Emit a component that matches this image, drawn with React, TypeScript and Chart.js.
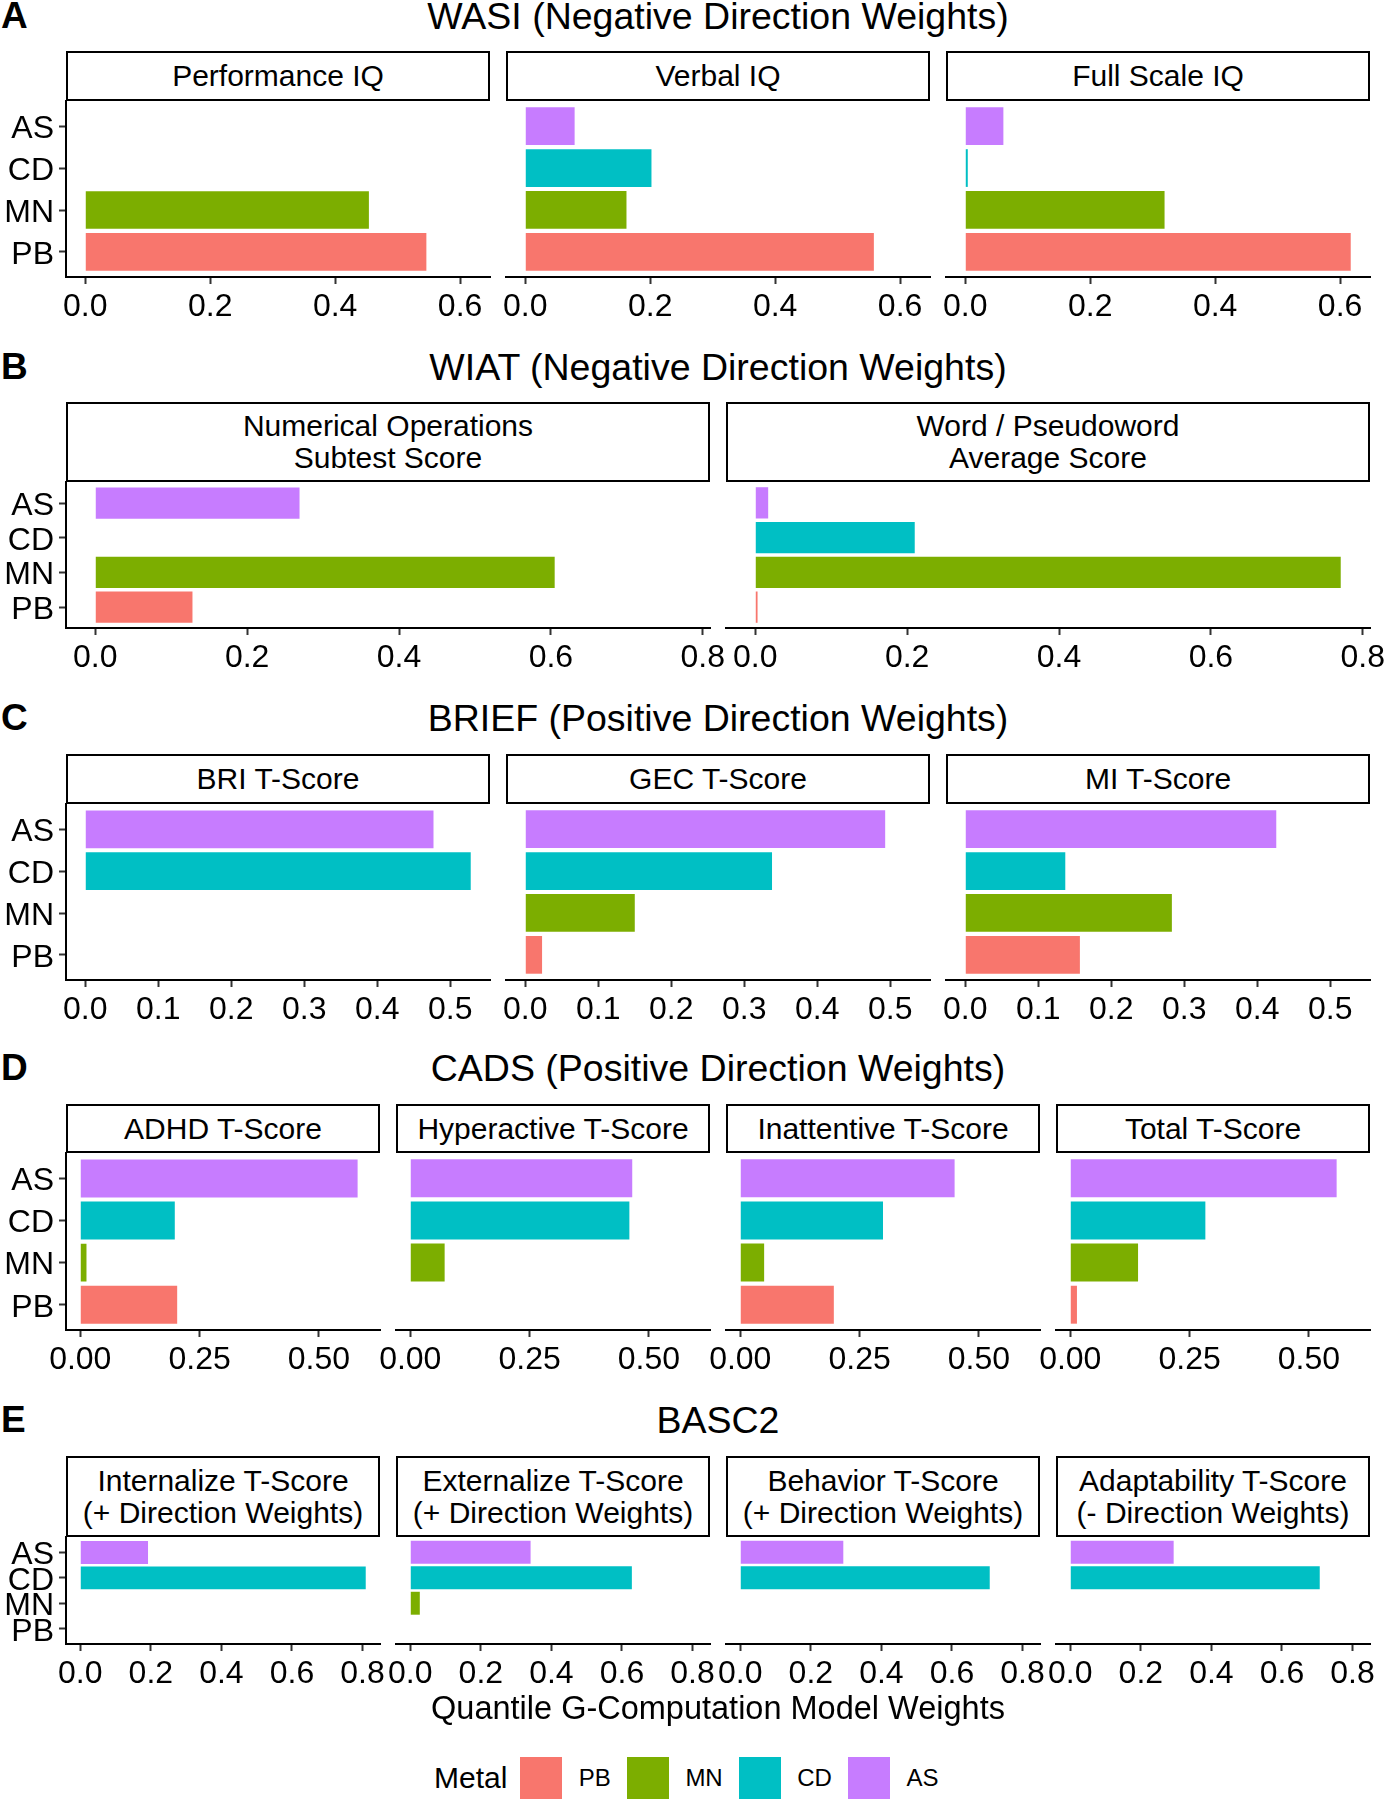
import React, { useEffect, useRef } from 'react';
import { Chart, registerables } from 'chart.js';

Chart.register(...registerables);

const FONT = "'Liberation Sans', Arial, Helvetica, sans-serif";

// ---------- data ----------
const metals = ['AS', 'CD', 'MN', 'PB'];
const legendMetals = ['PB', 'MN', 'CD', 'AS'];
const legendTitle = 'Metal';
const xAxisTitle = 'Quantile G-Computation Model Weights';

// A – WASI (values ordered AS, CD, MN, PB)
const wasiTitle = 'WASI (Negative Direction Weights)';
const wasiOutcomes = ['Performance IQ', 'Verbal IQ', 'Full Scale IQ'];
const wasiPerformanceIQ = [null, null, 0.454, 0.546];
const wasiVerbalIQ = [0.079, 0.202, 0.162, 0.558];
const wasiFullScaleIQ = [0.061, 0.004, 0.319, 0.617];
const wasiTicks = [0, 0.2, 0.4, 0.6];

// B – WIAT
const wiatTitle = 'WIAT (Negative Direction Weights)';
const wiatOutcomes = ['Numerical Operations\nSubtest Score', 'Word / Pseudoword\nAverage Score'];
const wiatNumerical = [0.269, null, 0.605, 0.128];
const wiatWord = [0.017, 0.21, 0.771, 0.003];
const wiatTicks = [0, 0.2, 0.4, 0.6, 0.8];

// C – BRIEF
const briefTitle = 'BRIEF (Positive Direction Weights)';
const briefOutcomes = ['BRI T-Score', 'GEC T-Score', 'MI T-Score'];
const briefBRI = [0.477, 0.528, null, null];
const briefGEC = [0.493, 0.338, 0.15, 0.023];
const briefMI = [0.426, 0.137, 0.283, 0.157];
const briefTicks = [0, 0.1, 0.2, 0.3, 0.4, 0.5];

// D – CADS
const cadsTitle = 'CADS (Positive Direction Weights)';
const cadsOutcomes = ['ADHD T-Score', 'Hyperactive T-Score', 'Inattentive T-Score', 'Total T-Score'];
const cadsADHD = [0.581, 0.198, 0.013, 0.203];
const cadsHyperactive = [0.465, 0.459, 0.072, null];
const cadsInattentive = [0.449, 0.299, 0.05, 0.196];
const cadsTotal = [0.558, 0.283, 0.142, 0.014];
const cadsTicks = [0, 0.25, 0.5];
const cadsAxisLimit = 0.598;

// E – BASC2
const bascTitle = 'BASC2';
const bascOutcomes = [
  'Internalize T-Score\n(+ Direction Weights)',
  'Externalize T-Score\n(+ Direction Weights)',
  'Behavior T-Score\n(+ Direction Weights)',
  'Adaptability T-Score\n(- Direction Weights)',
];
const bascInternalize = [0.192, 0.809, null, null];
const bascExternalize = [0.341, 0.628, 0.027, null];
const bascBehavior = [0.292, 0.707, null, null];
const bascAdaptability = [0.293, 0.707, null, null];
const bascTicks = [0, 0.2, 0.4, 0.6, 0.8];

// ---------- styles ----------
const metalColors: Record<string, string> = {
  PB: '#F8766D',
  MN: '#7CAE00',
  CD: '#00BFC4',
  AS: '#C77CFF',
};

type RowDef = {
  letter: string;
  title: string;
  outcomes: string[];
  series: (number | null)[][];
  ticks: number[];
  decimals: number;
  axisLimit?: number;
  titleY: number;
  stripTop: number;
  stripH: number;
  plotBottom: number;
};

const rows: RowDef[] = [
  { letter: 'A', title: wasiTitle, outcomes: wasiOutcomes, series: [wasiPerformanceIQ, wasiVerbalIQ, wasiFullScaleIQ], ticks: wasiTicks, decimals: 1, titleY: 16, stripTop: 51, stripH: 50, plotBottom: 277 },
  { letter: 'B', title: wiatTitle, outcomes: wiatOutcomes, series: [wiatNumerical, wiatWord], ticks: wiatTicks, decimals: 1, titleY: 367, stripTop: 402, stripH: 80, plotBottom: 628 },
  { letter: 'C', title: briefTitle, outcomes: briefOutcomes, series: [briefBRI, briefGEC, briefMI], ticks: briefTicks, decimals: 1, titleY: 718, stripTop: 754, stripH: 50, plotBottom: 980 },
  { letter: 'D', title: cadsTitle, outcomes: cadsOutcomes, series: [cadsADHD, cadsHyperactive, cadsInattentive, cadsTotal], ticks: cadsTicks, decimals: 2, axisLimit: cadsAxisLimit, titleY: 1068, stripTop: 1104, stripH: 49, plotBottom: 1330 },
  { letter: 'E', title: bascTitle, outcomes: bascOutcomes, series: [bascInternalize, bascExternalize, bascBehavior, bascAdaptability], ticks: bascTicks, decimals: 1, titleY: 1420, stripTop: 1456, stripH: 81, plotBottom: 1644 },
];

const PANEL_LEFT = 66;
const PANEL_RIGHT = 1370;
const FACET_GAP = 16;
const PAD_SIDE = 40;
const PAD_TOP = 24;
const X_AXIS_H = 56;
const AXIS_FONT = 32;

type FacetProps = {
  left: number;
  top: number;
  width: number;
  height: number;
  values: (number | null)[];
  ticks: number[];
  decimals: number;
  xMin: number;
  xMax: number;
  showY: boolean;
};

function Facet({ left, top, width, height, values, ticks, decimals, xMin, xMax, showY }: FacetProps) {
  const ref = useRef<HTMLCanvasElement>(null);
  const canvasLeft = showY ? 0 : left - PAD_SIDE;
  const canvasW = (showY ? left : PAD_SIDE) + width + PAD_SIDE;
  const canvasTop = top - PAD_TOP;
  const canvasH = PAD_TOP + height + X_AXIS_H;

  useEffect(() => {
    if (!ref.current) return;
    const pts: { x: number; y: number }[] = [];
    const colors: string[] = [];
    values.forEach((v, i) => {
      if (v !== null && v !== undefined) {
        pts.push({ x: v, y: i });
        colors.push(metalColors[metals[i]]);
      }
    });
    const tickFont = { family: FONT, size: AXIS_FONT };
    const gridOpts = {
      display: true,
      drawOnChartArea: false,
      drawTicks: true,
      tickLength: 7,
      tickColor: '#333333',
      tickWidth: 2,
      color: '#333333',
      offset: false,
    };
    const chart = new Chart(ref.current, {
      type: 'bar',
      data: {
        datasets: [
          {
            data: pts as any,
            backgroundColor: colors,
            borderWidth: 0,
            barPercentage: 0.9,
            categoryPercentage: 1,
          },
        ],
      },
      options: {
        indexAxis: 'y',
        animation: false,
        responsive: false,
        devicePixelRatio: 1,
        events: [],
        layout: { padding: { left: showY ? 0 : PAD_SIDE, right: PAD_SIDE, top: PAD_TOP, bottom: 0 } },
        plugins: { legend: { display: false }, tooltip: { enabled: false }, title: { display: false } },
        scales: {
          x: {
            type: 'linear',
            position: 'bottom',
            min: xMin,
            max: xMax,
            bounds: 'data',
            offset: false,
            afterBuildTicks: (s: any) => {
              s.ticks = ticks.map((v) => ({ value: v }));
            },
            afterFit: (s: any) => {
              s.height = X_AXIS_H;
            },
            ticks: {
              autoSkip: false,
              maxRotation: 0,
              minRotation: 0,
              padding: 4,
              color: '#000',
              font: tickFont,
              callback: (v: any) => Number(v).toFixed(decimals),
            },
            grid: gridOpts,
            border: { display: true, color: '#000', width: 2 },
          },
          y: {
            type: 'linear',
            position: 'left',
            min: -0.6,
            max: metals.length - 1 + 0.6,
            reverse: true,
            bounds: 'data',
            offset: false,
            display: showY,
            afterBuildTicks: (s: any) => {
              s.ticks = metals.map((_, i) => ({ value: i }));
            },
            afterFit: (s: any) => {
              s.width = showY ? left : 0;
            },
            ticks: {
              autoSkip: false,
              padding: 5,
              labelOffset: 3,
              color: '#000',
              font: tickFont,
              callback: (v: any) => metals[Math.round(Number(v))],
            },
            grid: gridOpts,
            border: { display: true, color: '#000', width: 2 },
          },
        },
      } as any,
    });
    return () => chart.destroy();
  }, []);

  return (
    <canvas
      ref={ref}
      width={canvasW}
      height={canvasH}
      style={{ position: 'absolute', left: canvasLeft, top: canvasTop, width: canvasW, height: canvasH }}
    />
  );
}

function Row({ row }: { row: RowDef }) {
  const n = row.outcomes.length;
  const w = (PANEL_RIGHT - PANEL_LEFT - FACET_GAP * (n - 1)) / n;
  let d = 0;
  row.series.forEach((s) => s.forEach((v) => { if (v !== null && v > d) d = v; }));
  if (row.axisLimit !== undefined) d = Math.max(d, row.axisLimit);
  const xMin = -0.05 * d;
  const xMax = 1.05 * d;
  const plotTop = row.stripTop + row.stripH;
  const plotH = row.plotBottom - plotTop;
  return (
    <>
      <div style={{ position: 'absolute', left: 1, top: row.titleY - 22, height: 44, lineHeight: '44px', fontSize: 37, fontWeight: 'bold' }}>
        {row.letter}
      </div>
      <div style={{ position: 'absolute', left: PANEL_LEFT, width: PANEL_RIGHT - PANEL_LEFT, top: row.titleY - 22, height: 44, lineHeight: '44px', fontSize: 37.5, textAlign: 'center', whiteSpace: 'nowrap' }}>
        {row.title}
      </div>
      {row.outcomes.map((o, i) => {
        const left = PANEL_LEFT + i * (w + FACET_GAP);
        return (
          <React.Fragment key={o}>
            <div
              style={{
                position: 'absolute',
                left,
                top: row.stripTop,
                width: w,
                height: row.stripH,
                boxSizing: 'border-box',
                border: '2px solid #000',
                background: '#fff',
                display: 'flex',
                alignItems: 'center',
                justifyContent: 'center',
                textAlign: 'center',
                whiteSpace: 'pre-line',
                fontSize: 30,
                lineHeight: '32px',
              }}
            >
              {o}
            </div>
            <Facet
              left={left}
              top={plotTop}
              width={w}
              height={plotH}
              values={row.series[i]}
              ticks={row.ticks}
              decimals={row.decimals}
              xMin={xMin}
              xMax={xMax}
              showY={i === 0}
            />
          </React.Fragment>
        );
      })}
    </>
  );
}

export default function App() {
  return (
    <div
      style={{
        position: 'absolute',
        left: 0,
        top: 0,
        width: 1386,
        height: 1800,
        background: '#fff',
        color: '#000',
        fontFamily: FONT,
        overflow: 'hidden',
      }}
    >
      {rows.map((r) => (
        <Row key={r.letter} row={r} />
      ))}
      <div style={{ position: 'absolute', left: PANEL_LEFT, width: PANEL_RIGHT - PANEL_LEFT, top: 1708 - 20, height: 40, lineHeight: '40px', fontSize: 32.5, textAlign: 'center', whiteSpace: 'nowrap' }}>
        {xAxisTitle}
      </div>
      <div style={{ position: 'absolute', left: 434, top: 1757, height: 42, display: 'flex', alignItems: 'center', whiteSpace: 'nowrap' }}>
        <span style={{ fontSize: 30, marginRight: 13 }}>{legendTitle}</span>
        {legendMetals.map((m) => (
          <span key={m} style={{ display: 'flex', alignItems: 'center', marginRight: 16 }}>
            <span style={{ display: 'inline-block', width: 42, height: 42, background: metalColors[m], marginRight: 16.5 }} />
            <span style={{ fontSize: 24 }}>{m}</span>
          </span>
        ))}
      </div>
    </div>
  );
}
